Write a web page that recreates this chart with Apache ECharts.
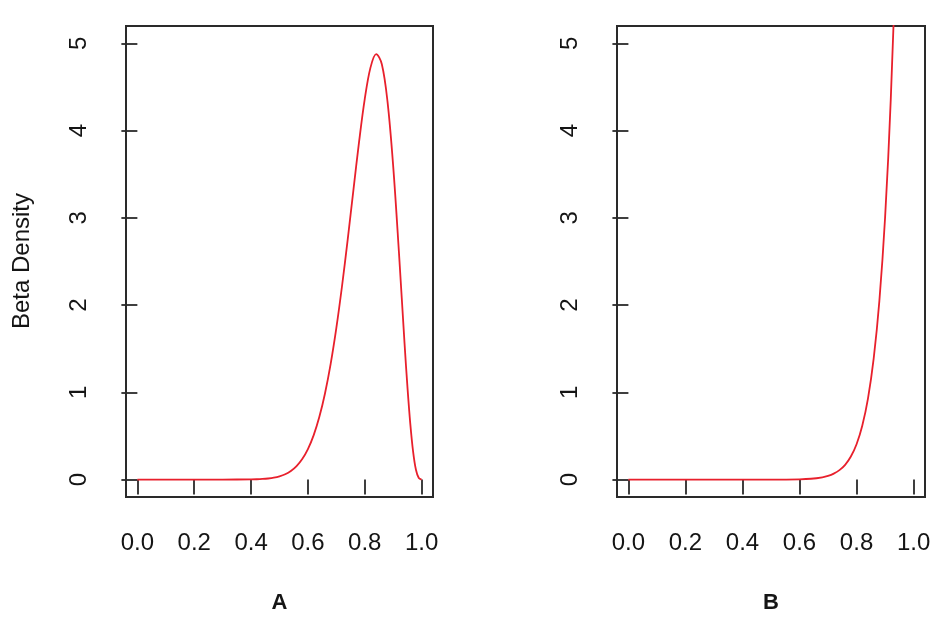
<!DOCTYPE html>
<html>
<head>
<meta charset="utf-8">
<script src="https://cdn.jsdelivr.net/npm/echarts@6/dist/echarts.min.js"></script>
<style>
html,body{margin:0;padding:0;background:#fff;}
#chart{width:935px;height:620px;}
</style>
</head>
<body>
<div id="chart"></div>
<script>
// Panel A: x positions and Beta density values
var xA = [0, 0.1, 0.2, 0.3, 0.4, 0.42, 0.44, 0.46, 0.48, 0.5, 0.52, 0.54, 0.56, 0.58, 0.6, 0.62, 0.64, 0.66, 0.68, 0.7, 0.72, 0.74, 0.76, 0.78, 0.8, 0.82, 0.84, 0.86, 0.88, 0.9, 0.92, 0.94, 0.95, 0.96, 0.97, 0.98, 0.99, 1.0];
var densA = [0, 0, 0, 0.00003, 0.0018, 0.0035, 0.0067, 0.0123, 0.0216, 0.037, 0.061, 0.099, 0.155, 0.236, 0.350, 0.507, 0.716, 0.987, 1.327, 1.739, 2.219, 2.754, 3.319, 3.874, 4.364, 4.723, 4.878, 4.762, 4.332, 3.591, 2.614, 1.555, 1.066, 0.645, 0.321, 0.112, 0.017, 0];
// Panel B
var xB = [0, 0.1, 0.2, 0.3, 0.4, 0.5, 0.6, 0.64, 0.68, 0.7, 0.72, 0.74, 0.76, 0.78, 0.8, 0.82, 0.84, 0.86, 0.88, 0.9, 0.92, 0.94, 0.96];
var densB = [0, 0, 0, 0, 0, 0.0001, 0.003, 0.009, 0.026, 0.042, 0.068, 0.108, 0.169, 0.264, 0.405, 0.617, 0.929, 1.386, 2.049, 3.002, 4.362, 6.286, 8.99];

var xTicks = [0, 0.2, 0.4, 0.6, 0.8, 1.0];
var yTicks = [0, 1, 2, 3, 4, 5];
var panelLabels = ['A', 'B'];
var yTitle = 'Beta Density';

function zip(xs, ys){ return xs.map(function(x,i){ return [x, ys[i]]; }); }

var FONT = 'Liberation Sans, Arial, sans-serif';
var INK = '#151515';
var BOX = '#2a2a2a';
var RED = '#e8202c';

var grids = [
  {left:126, top:26, width:307, height:471},
  {left:617, top:26, width:308, height:471}
];

function xAxis(i){
  return {
    type:'value', gridIndex:i, min:-0.04, max:1.04,
    axisLine:{show:false},
    splitLine:{show:false},
    axisTick:{show:true, inside:false, length:15, customValues:xTicks, lineStyle:{color:BOX, width:1.8}},
    axisLabel:{show:true, customValues:xTicks, margin:34, color:INK, fontSize:24, fontFamily:FONT,
      formatter:function(v){ return v.toFixed(1); }}
  };
}
function yAxis(i){
  return {
    type:'value', gridIndex:i, min:-0.2, max:5.2,
    axisLine:{show:false},
    splitLine:{show:false},
    axisTick:{show:true, inside:false, length:16, customValues:yTicks, lineStyle:{color:BOX, width:1.8}},
    axisLabel:{show:true, customValues:yTicks, margin:35, rotate:90, color:INK, fontSize:24, fontFamily:FONT,
      formatter:function(v){ return String(v); }}
  };
}

var chart = echarts.init(document.getElementById('chart'), null, {renderer:'canvas'});
chart.setOption({
  backgroundColor:'#ffffff',
  animation:false,
  grid: grids.map(function(g){ return Object.assign({show:true, borderColor:BOX, borderWidth:2, backgroundColor:'transparent'}, g); }),
  xAxis:[xAxis(0), xAxis(1)],
  yAxis:[yAxis(0), yAxis(1)],
  series:[
    {type:'line', xAxisIndex:0, yAxisIndex:0, data:zip(xA, densA), showSymbol:false, smooth:0.35,
     clip:true, lineStyle:{color:RED, width:1.8}},
    {type:'line', xAxisIndex:1, yAxisIndex:1, data:zip(xB, densB), showSymbol:false, smooth:0.35,
     clip:true, lineStyle:{color:RED, width:1.8}}
  ],
  graphic:[
    {type:'text', x:22, y:261, rotation:Math.PI/2, style:{text:yTitle, fill:INK, font:'24px Liberation Sans, Arial, sans-serif', textAlign:'center', textVerticalAlign:'middle'}},
    {type:'text', x:279.5, y:603, style:{text:panelLabels[0], fill:INK, font:'bold 22px Liberation Sans, Arial, sans-serif', textAlign:'center', textVerticalAlign:'middle'}},
    {type:'text', x:771, y:603, style:{text:panelLabels[1], fill:INK, font:'bold 22px Liberation Sans, Arial, sans-serif', textAlign:'center', textVerticalAlign:'middle'}}
  ]
});
</script>
</body>
</html>
